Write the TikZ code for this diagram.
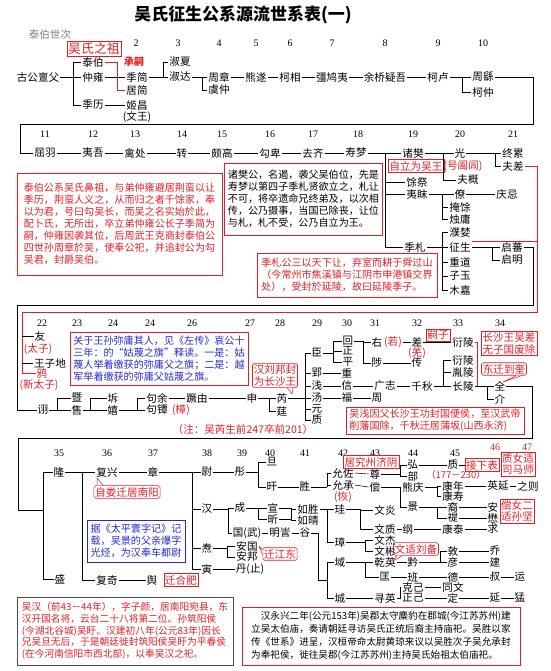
\documentclass[tikz,border=0pt]{standalone}
\usepackage{fontspec}
\setmainfont{Noto Sans CJK SC}
\newfontfamily\numfont{Liberation Serif}
\definecolor{rd}{RGB}{228,30,38}
\definecolor{bl}{RGB}{40,40,210}
% link and bracket between named nodes
\newcommand\lk[2]{\draw (#1.east) -- (#2.west);}
\newcommand\kin[3]{\draw (#1.east) -- (#2,0 |- #1.east);
  \foreach \ch in {#3}{\draw (#2,0 |- #1.east) |- (\ch.west);}}

\begin{document}
\begin{tikzpicture}[x=0.03cm,y=-0.03cm,line width=0.45pt,
  every node/.style={inner sep=0.8pt},
  nm/.style={font=\fontsize{9}{9.5}\selectfont},
  rn/.style={nm,text=rd},
  gen/.style={inner sep=0pt,font=\numfont\fontsize{8.5}{9}\selectfont},
  tag/.style={draw=rd,text=rd,font=\fontsize{9}{10}\selectfont,inner sep=1.2pt},
  call/.style={tag,rounded corners=1.5pt},
  note/.style={align=left,inner xsep=3pt,inner ysep=2pt,font=\fontsize{8.6}{10.3}\selectfont},
  rl/.style={draw=rd},
  tail/.style={draw=rd,fill=white,line join=round}]

  \useasboundingbox (0,0) rectangle (550,671);

  % title
  \node[font=\bfseries\fontsize{14.5}{16}\selectfont] (title) at (243,15) {吴氏征生公系源流世系表(一)};
  \node[nm,text=gray] (sbsc) at (50,35) {泰伯世次};
  \node[tag,font=\fontsize{11}{12}\selectfont] (wszz) at (94,49) {吴氏之祖};

  % generations 1 - 10
  \foreach \n/\x in {2/136,3/178,4/219,5/256,6/290,7/332,8/385,9/438,10/483}
    \node[gen] (ga\n) at (\x,43) {\n};
  \node[nm] (ggdf) at (38,77) {古公亶父};
  \node[nm] (taibo) at (93,62) {泰伯};
  \node[nm] (zhongyong) at (93,77) {仲雍};
  \node[nm] (jili) at (93,105) {季历};
  \node[rn,font=\bfseries\fontsize{8.5}{9}\selectfont] (chengsi) at (134,62) {承嗣};
  \node[nm] (jijian) at (137,77) {季简};
  \node[nm] (jujian) at (137,90) {居简};
  \node[nm] (jichang) at (137,105) {姬昌};
  \node[nm] (wenwang) at (137,117) {(文王)};
  \node[nm] (shuxia) at (180,62) {淑夏};
  \node[nm] (shuda) at (180,77) {淑达};
  \node[nm] (zhouzhang) at (219,77) {周章};
  \node[nm] (yuzhong) at (219,90) {虞仲};
  \node[nm] (xiongsui) at (256,77) {熊遂};
  \node[nm] (kexiang) at (290,77) {柯相};
  \node[nm] (qiangjiuyi) at (332,77) {彊鸠夷};
  \node[nm] (yuqiao) at (385,77) {余桥疑吾};
  \node[nm] (kelu) at (438,77) {柯卢};
  \node[nm] (zhouyao) at (483,77) {周繇};
  \node[nm] (kezhong) at (483,92) {柯仲};

  \kin{ggdf}{73}{taibo,zhongyong,jili}
  \lk{zhongyong}{jijian}
  \draw[rl] (taibo.east) -- (117,0 |- taibo.east) |- (jujian.west);
  \kin{jijian}{163}{shuxia,shuda}
  \lk{jili}{jichang}
  \kin{shuda}{202}{zhouzhang,yuzhong}
  \lk{zhouzhang}{xiongsui} \lk{xiongsui}{kexiang} \lk{kexiang}{qiangjiuyi}
  \lk{qiangjiuyi}{yuqiao} \lk{yuqiao}{kelu}
  \kin{kelu}{462}{zhouyao,kezhong}

  % generations 11 - 21
  \foreach \n/\x in {11/45,12/93,13/135,14/182,15/222,16/270,17/313,18/358,19/413,20/460,21/513}
    \node[gen] (gb\n) at (\x,134) {\n};
  \node[nm] (quyu) at (45,153) {屈羽};
  \node[nm] (yiwu) at (93,153) {夷吾};
  \node[nm] (qinchu) at (135,153) {禽处};
  \node[nm] (zhuan) at (182,153) {转};
  \node[nm] (pogao) at (222,153) {颇高};
  \node[nm] (goubei) at (270,153) {勾卑};
  \node[nm] (quqi) at (313,153) {去齐};
  \node[nm] (shoumeng) at (356,153) {寿梦};
  \node[nm] (zhufan) at (413,153) {诸樊};
  \node[nm] (yuji) at (417,182) {馀祭};
  \node[nm] (yimei) at (417,194) {夷眜};
  \node[nm] (jizha) at (415,247) {季札};
  \node[tag] (zlww) at (416,166) {自立为吴王};
  \node[rn] (hhl) at (463,166) {(号阖闾)};
  \node[nm] (guang) at (460,153) {光};
  \node[nm] (fugai) at (468,180) {夫概};
  \node[nm] (zhongle) at (513,153) {终累};
  \node[nm] (fuchai) at (513,166) {夫差};
  \node[nm] (liao) at (460,194) {僚};
  \node[nm] (yanyu) at (460,207) {掩馀};
  \node[nm] (zhuyong) at (460,219) {烛庸};
  \node[nm] (qingji) at (507,194) {庆忌};
  \node[nm] (puli) at (460,232) {濮婪};
  \node[nm] (zhengsheng) at (460,247) {征生};
  \node[nm] (zhongdao) at (460,262) {重道};
  \node[nm] (ziyu) at (460,276) {子玉};
  \node[nm] (mujia) at (460,290) {木嘉};
  \node[nm] (qifan) at (512,247) {启蕃};
  \node[nm] (qiming) at (512,260) {启明};

  \draw (zhouyao.east) -- (533,0 |- zhouyao.east) -- (533,124) -- (20,124) |- (quyu.west);
  \lk{quyu}{yiwu} \lk{yiwu}{qinchu} \lk{qinchu}{zhuan} \lk{zhuan}{pogao}
  \lk{pogao}{goubei} \lk{goubei}{quqi} \lk{quqi}{shoumeng}
  \kin{shoumeng}{385}{zhufan,yuji,yimei,jizha}
  \kin{zhufan}{443}{guang,fugai}
  \kin{guang}{495}{zhongle,fuchai}
  \kin{yimei}{442}{liao,yanyu,zhuyong}
  \lk{liao}{qingji}
  \kin{jizha}{442}{puli,zhengsheng,zhongdao,ziyu,mujia}
  \kin{zhengsheng}{492}{qifan,qiming}
  \draw[rl] (zhengsheng.north east) -- (537,0 |- zhengsheng.north east);

  % notes
  \node[note,draw=rd,text=rd,minimum width=6.15cm,minimum height=3.06cm] (bx1) at (119.5,224)
    {泰伯公系吴氏鼻祖，与弟仲雍避居荆蛮以让\\季历，荆蛮人义之，从而归之者千馀家，奉\\
     以为君，号曰勾吴长，而吴之名实始於此，\\配卜氏，无所出，卒立弟仲雍公长子季简为\\
     嗣，仲雍因袭其位，后周武王克商封泰伯公\\四世孙周章於吴，使奉公祀，并追封公为勾\\吴君，封爵吴伯。};
  \node[note,draw=rd,minimum width=4.71cm,minimum height=2.16cm] (bx2) at (303.5,199)
    {诸樊公，名遏，袭父吴伯位，先是\\寿梦以第四子季札贤欲立之，札让\\
     不可，将卒遗命兄终弟及，以次相\\传，公乃摄事，当国已除丧，让位\\与札，札不受，公乃自立为王。};
  \node[note,draw=rd,text=rd,minimum width=5.4cm,minimum height=1.32cm] (bx3) at (347,275)
    {季札公三以天下让，弃室而耕于舜过山\\（今常州市焦溪镇与江阴市申港镇交界\\处），受封於延陵，故曰延陵季子。};

  % generations 22 - 34
  \foreach \n/\x [count=\i] in {22/42,23/77,24/113,24/150,26/192,27/250,28/280,29/317,30/347,31/375,32/417,33/458,34/500}
    \node[gen] (gc\i) at (\x,323) {\n};
  \node[nm] (you) at (40,336) {友};
  \node[rn] (taizi) at (38,349) {(太子)};
  \node[nm] (wzd) at (50,363) {王子地};
  \node[rn] (ya) at (42,373) {鸦};
  \node[rn] (xtz) at (39,385) {(新太子)};
  \node[nm] (xu) at (43,410) {诩};
  \node[nm] (ji) at (77,398) {暨};
  \node[nm] (shou) at (77,410) {售};
  \node[nm] (chai) at (113,398) {坼};
  \node[nm] (xi) at (113,410) {嬉};
  \node[nm] (gouyu) at (157,398) {句余};
  \node[nm] (goutan) at (157,410) {句镡};
  \node[rn] (zhangm) at (181,410) {(樟)};
  \node[nm] (jueyou) at (197,398) {蹶由};
  \node[nm] (shen) at (252,398) {申};
  \node[nm] (rui) at (282,398) {芮};
  \node[nm] (ting) at (282,411) {莛};
  \node[nm] (chen) at (317,353) {臣};
  \node[nm] (ying) at (317,373) {郢};
  \node[nm] (qian) at (317,386) {浅};
  \node[nm] (tang) at (317,398) {汤};
  \node[nm] (yuan) at (317,409) {元};
  \node[nm] (zhi) at (317,420) {质};
  \node[nm] (hui) at (348,341) {回};
  \node[nm] (zheng) at (348,351) {正};
  \node[nm] (ping) at (348,362) {平};
  \node[nm] (you2) at (377,342) {右};
  \node[rn] (ruo) at (393,342) {(若)};
  \node[nm] (cha) at (417,342) {差};
  \node[rn] (qiang) at (417,353) {(羌)};
  \node[tag] (sizi) at (438,335) {嗣子};
  \node[nm] (zhi2) at (377,363) {陟};
  \node[nm] (chuan) at (417,363) {传};
  \node[nm] (zhong) at (347,373) {重};
  \node[nm] (xin) at (347,386) {信};
  \node[nm] (fu) at (347,398) {福};
  \node[nm] (zhou) at (377,398) {周};
  \node[nm] (guangzhi) at (385,386) {广志};
  \node[nm] (qianqiu) at (422,386) {千秋};
  \node[nm] (yanling) at (463,342) {衍陵};
  \node[nm] (yanling2) at (463,360) {衍陵};
  \node[nm] (yinling) at (463,372) {胤陵};
  \node[nm] (changling) at (463,386) {长陵};
  \node[nm] (quan) at (500,386) {全};
  \node[nm] (jie) at (500,399) {介};

  \draw (qifan.east) -- (533,0 |- qifan.east) -- (533,305) -- (17,305) |- (xu.west);
  \draw[rl] (fuchai.east) -- (537,0 |- fuchai.east) -- (537,312) -- (22,312) |- (ya.west);
  \draw (22,0 |- you.west) -- (you.west);
  \draw (22,0 |- wzd.west) -- (wzd.west);
  \kin{xu}{57}{ji,shou}
  \kin{shou}{90}{chai,xi}
  \kin{xi}{137}{gouyu,goutan}
  \lk{gouyu}{jueyou} \lk{jueyou}{shen}
  \kin{shen}{269}{rui,ting}
  \kin{rui}{305}{chen,ying,qian,tang,yuan,zhi}
  \kin{chen}{333}{hui,zheng,ping}
  \kin{hui}{363}{you2,zhi2}
  \lk{ruo}{cha} \lk{cha}{yanling} \lk{zhi2}{chuan}
  \lk{ying}{zhong} \lk{qian}{xin} \lk{xin}{guangzhi} \lk{guangzhi}{qianqiu}
  \lk{tang}{fu} \lk{fu}{zhou}
  \kin{qianqiu}{443}{yanling2,yinling,changling}
  \kin{changling}{487}{quan,jie}
  \draw[rl] (yanling.east) -- (477,0 |- yanling.east) -- (477,0 |- changling.east);
  \draw (quan.east) -- (532,0 |- quan.east) -- (532,438) -- (18,438) -- (18,510) -- (43,510);

  \node[note,draw=rd,text=bl,minimum width=5.34cm,minimum height=1.59cm] (bx4) at (159,358.5)
    {关于王孙弥庸其人，见《左传》哀公十\\三年：的“姑蔑之旗”释读。一是：姑\\
     蔑人举着缴获的弥庸父之旗；二是：越\\军举着缴获的弥庸父姑蔑之旗。};
  \node[call,align=center] (hlfw) at (275,375.5) {汉刘邦封\\为长沙王};
  \coordinate (hlt) at (292,394);
  \filldraw[tail] ([xshift=-9pt]hlfw.south east) -- (hlt) -- ([xshift=-4pt]hlfw.south east);
  \node[rn] (zhu) at (243,429) {（注：吴芮生前247卒前201）};
  \node[tag,align=center,minimum width=1.56cm] (cswz) at (509,343.5) {长沙王吴差\\无子国废除};
  \node[call] (dqdk) at (504,369) {东迁到奎};
  \coordinate (dqt) at (503,382);
  \filldraw[tail] ([xshift=-9pt]dqdk.south east) -- (dqt) -- ([xshift=-4pt]dqdk.south east);
  \node[note,draw=rd,text=rd,minimum width=5.28cm,minimum height=0.75cm] (bx5) at (435,420.5)
    {吴浅因父长沙王功封国便侯，至汉武帝\\削藩国除，千秋迁居蒲坂(山西永济)};

  % generations 35 - 47
  \foreach \n/\x in {35/59,36/107,37/153,38/207,39/242,40/270,41/305,42/343,43/375,44/413,45/455}
    \node[gen] (gd\n) at (\x,453) {\n};
  \node[gen,text=rd] (gd46) at (495,447) {46};
  \node[gen,text=rd] (gd47) at (527,447) {47};
  \node[nm] (long) at (59,472) {隆};
  \node[nm] (sheng) at (60,579) {盛};
  \node[nm] (fuxing) at (107,472) {复兴};
  \node[nm] (fuqi) at (107,580) {复奇};
  \node[nm] (yu3) at (152,580) {舆};
  \node[tag] (qhf) at (181,580) {迁合肥};
  \node[nm] (zhang2) at (153,472) {章};
  \node[nm] (wei) at (207,472) {尉};
  \node[nm] (han) at (207,509) {汉};
  \node[nm] (tao) at (207,548) {焘};
  \node[nm] (yin) at (207,569) {寅};
  \node[nm] (tong) at (240,472) {彤};
  \node[nm] (dan) at (272,462) {旦};
  \node[nm] (gan) at (272,487) {旰};
  \node[nm] (cheng) at (240,508) {成};
  \node[nm] (guowu) at (247,533) {国(武)};
  \node[nm] (xuan) at (273,508) {宣};
  \node[nm] (xin2) at (273,519) {昕};
  \node[nm] (mingyin) at (280,533) {明訔};
  \node[nm] (gu) at (305,533) {谷};
  \node[nm] (anguo) at (247,546) {安国};
  \node[nm] (anbang) at (247,557) {安邦};
  \node[nm] (danzhi) at (250,569) {丹(止)};
  \node[nm] (sheng2) at (305,487) {胜};
  \node[nm] (yunzuo) at (343,473) {允佐};
  \node[nm] (yuncheng) at (343,485) {允承};
  \node[rn] (hui2) at (343,497) {(恢)};
  \node[tag] (jyzy) at (371,462) {居究州济阴};
  \node[nm] (rusheng) at (308,509) {如胜};
  \node[nm] (ruqing) at (308,520) {如晴};
  \node[nm] (gui) at (340,509) {珪};
  \node[nm] (zhang3) at (340,542) {璋};
  \node[nm] (yu2) at (340,562) {域};
  \node[nm] (cheng2) at (340,598) {城};
  \node[nm] (wenyan) at (385,510) {文炎};
  \node[nm] (wenzhi) at (385,529) {文质};
  \node[nm] (wenjie) at (385,540) {文杰};
  \node[nm] (wenbin) at (385,551) {文彬};
  \node[nm] (qianying) at (385,562) {乾英};
  \node[nm] (kuang) at (385,577) {匡};
  \node[nm] (xunying) at (385,598) {寻英};
  \node[nm] (gang) at (408,529) {纲};
  \node[nm] (kangtai) at (453,529) {康泰};
  \node[nm] (qiu) at (493,529) {求};
  \node[nm] (qian2) at (413,562) {黔};
  \node[nm] (dun) at (453,551) {敦};
  \node[nm] (yan) at (453,562) {彦};
  \node[nm] (qiao) at (495,551) {乔};
  \node[nm] (jian) at (495,562) {建};
  \node[nm] (ban) at (413,577) {班};
  \node[nm] (de) at (453,577) {德};
  \node[nm] (shu) at (495,577) {叔};
  \node[nm] (yun) at (520,577) {运};
  \node[nm] (keji) at (413,587) {克己};
  \node[nm] (zhengji) at (413,598) {正己};
  \node[nm] (tongwen) at (453,587) {同文};
  \node[nm] (ding) at (453,598) {定};
  \node[nm] (yan2) at (495,598) {延};
  \node[nm] (meng) at (520,598) {猛};
  \node[nm] (zun) at (375,474) {尊};
  \node[nm] (hong) at (413,465) {弘};
  \node[nm] (bu) at (413,476) {部};
  \node[nm] (zhi3) at (453,465) {质};
  \node[rn,font=\fontsize{8}{9}\selectfont] (years) at (456,475) {（177－230）};
  \node[tag] (jxb) at (482,465) {接下表};
  \node[tag,align=center] (znsm) at (518,464) {质女适\\司马师};
  \node[nm] (chang) at (375,487) {偿};
  \node[nm] (xiongqing) at (413,487) {熊庆};
  \node[nm] (jing) at (413,507) {景};
  \node[nm] (kangnian) at (453,486) {康年};
  \node[nm] (kangshou) at (453,496) {康寿};
  \node[nm] (yingyan) at (498,486) {英延};
  \node[nm] (zhize) at (528,486) {之则};
  \node[nm] (yi) at (453,507) {裔};
  \node[nm] (ti) at (453,518) {禔};
  \node[nm] (an) at (493,507) {安};
  \node[nm] (mao) at (493,518) {懋};
  \node[tag,align=center] (cnsj) at (517,511) {偿女二\\适孙坚};

  \draw (long.west) -- (43,0 |- long.west) -- (43,0 |- sheng.west) -- (sheng.west);
  \kin{long}{82}{fuxing,fuqi}
  \lk{fuxing}{zhang2} \lk{fuqi}{yu3}
  \kin{zhang2}{192}{wei,han,tao,yin}
  \lk{wei}{tong}
  \kin{tong}{258}{dan,gan}
  \kin{han}{228}{cheng,guowu}
  \kin{cheng}{258}{xuan,xin2}
  \lk{guowu}{mingyin} \lk{mingyin}{gu}
  \kin{tao}{227}{anguo,anbang}
  \lk{yin}{danzhi}
  \lk{gan}{sheng2}
  \kin{sheng2}{327}{yunzuo,yuncheng}
  \kin{xuan}{291}{rusheng,ruqing}
  \draw (xin2.east) -- (291,0 |- xin2.east);
  \kin{rusheng}{327}{gui,zhang3}
  \draw (gu.east) -- (318,0 |- gu.east) -- (318,580) -- (327,580);
  \draw (yu2.west) -- (327,0 |- yu2.west) -- (327,0 |- cheng2.west) -- (cheng2.west);
  \kin{gui}{360}{wenyan,wenzhi}
  \kin{zhang3}{365}{wenjie,wenbin}
  \kin{yu2}{365}{qianying,kuang}
  \lk{cheng2}{xunying}
  \lk{wenzhi}{gang} \lk{gang}{kangtai} \lk{kangtai}{qiu}
  \lk{qianying}{qian2}
  \kin{qian2}{440}{dun,yan}
  \lk{dun}{qiao} \lk{yan}{jian}
  \lk{kuang}{ban} \lk{ban}{de} \lk{de}{shu} \lk{shu}{yun}
  \kin{xunying}{400}{keji,zhengji}
  \lk{keji}{tongwen} \lk{zhengji}{ding} \lk{ding}{yan2} \lk{yan2}{meng}
  \lk{yunzuo}{zun}
  \kin{zun}{400}{hong,bu}
  \lk{hong}{zhi3} \lk{zhi3}{jxb}
  \lk{yuncheng}{chang}
  \kin{chang}{400}{xiongqing,jing}
  \kin{xiongqing}{437}{kangnian,kangshou}
  \lk{kangnian}{yingyan} \lk{yingyan}{zhize}
  \kin{jing}{437}{yi,ti}
  \lk{yi}{an} \lk{ti}{mao}

  % callouts and notes, lower part
  \node[call] (nanyang) at (127,492) {自娄迁居南阳};
  \coordinate (nyt) at (97,478);
  \filldraw[tail] ([xshift=3pt]nanyang.north west) -- (nyt) -- ([xshift=8pt]nanyang.north west);
  \node[call] (jiangd) at (280,554) {迁江东};
  \coordinate (jdt) at (259,546);
  \filldraw[tail] ([yshift=-2pt]jiangd.north west) -- (jdt) -- ([yshift=-6pt]jiangd.north west);
  \node[call] (liubei) at (416,549) {文适刘备};
  \coordinate (lbt) at (393,561);
  \filldraw[tail] ([xshift=3pt]liubei.south west) -- (lbt) -- ([xshift=8pt]liubei.south west);
  \node[note,draw=bl,text=bl,minimum width=2.82cm,minimum height=1.26cm] (bx8) at (136,541)
    {据《太平寰字记》记\\载，吴景的父亲爆字\\光烃，为汉奉车都尉};
  \node[note,draw=black!70,text=rd,font=\fontsize{8.3}{10}\selectfont,
        minimum width=6.48cm,minimum height=2.04cm] (bx6) at (125,631)
    {吴汉（前43－44年），字子颜，居南阳宛县，东\\汉开国名将，云台二十八将第二位。孙筑阳侯\\
     (今湖北谷城)吴盱。汉建初八年(公元83年)因长\\兄吴旦无后，于是朝廷徙封筑阳侯吴盱为平春侯\\
     (在今河南信阳市西北部)，以奉吴汉之祀。};
  \node[note,draw=rd,font=\fontsize{8.2}{11.2}\selectfont,
        minimum width=8.34cm,minimum height=1.74cm] (bx7) at (381,636)
    {\quad 汉永兴二年(公元153年)吴郡太守麋豹在郡城(今江苏苏州)建\\
     立吴太伯庙，奏请朝廷寻访吴氏正统后裔主持庙祀。吴胜以家\\
     传《世系》进呈，汉桓帝命太尉黄琼来议以吴胜次子吴允承封\\
     为奉祀侯，徙往吴郡(今江苏苏州)主持吴氏始祖太伯庙祀。};

\end{tikzpicture}
\end{document}
